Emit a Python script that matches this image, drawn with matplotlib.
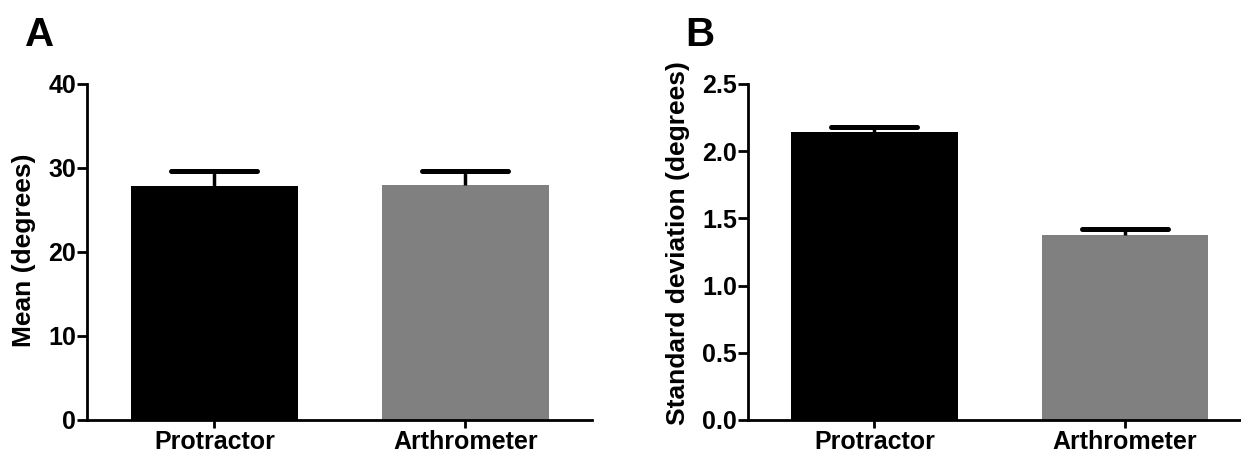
import matplotlib
matplotlib.use("Agg")
import matplotlib.pyplot as plt
from matplotlib.markers import MarkerStyle

categories = ["Protractor", "Arthrometer"]
mean_values = [27.9, 28.0]
mean_errors = [1.7, 1.7]
sd_values = [2.14, 1.38]
sd_errors = [0.04, 0.042]
bar_colors = ["#000000", "#808080"]
mean_ticks = [0, 10, 20, 30, 40]
sd_ticks = [0.0, 0.5, 1.0, 1.5, 2.0, 2.5]

plt.rcParams['font.family'] = ['Liberation Sans', 'DejaVu Sans']
plt.rcParams['font.weight'] = 'bold'

fig = plt.figure(figsize=(12.41, 4.54), dpi=100)

def panel(rect, values, errors, ticks, ylim, ylabel, label_xy, ticklabels, letter, letter_pos, xlim):
    ax = fig.add_axes(rect)
    x = list(range(len(categories)))
    ax.bar(x, values, width=0.665, color=bar_colors, edgecolor='none', zorder=2)
    eb = ax.errorbar(x, values, yerr=[[0] * len(errors), errors], fmt='none',
                     ecolor='black', elinewidth=2.5, capsize=31, capthick=3.6, zorder=3)
    for cap in eb[1]:
        ys = list(cap.get_ydata())
        if all(abs(a - b) < 1e-9 for a, b in zip(ys, values)):
            cap.set_visible(False)
        else:
            cap.set_marker(MarkerStyle('_', capstyle='round'))
    ax.set_xlim(*xlim)
    ax.set_ylim(*ylim)
    ax.set_yticks(ticks)
    ax.set_yticklabels(ticklabels, fontsize=18, fontweight='bold')
    ax.set_xticks(x)
    ax.set_xticklabels(categories, fontsize=18, fontweight='bold')
    for s in ['top', 'right']:
        ax.spines[s].set_visible(False)
    for s in ['left', 'bottom']:
        ax.spines[s].set_linewidth(2.0)
    ax.tick_params(axis='y', length=7, width=2.0, pad=1)
    ax.tick_params(axis='x', length=6, width=2.0, pad=1)
    ax.set_ylabel(ylabel, fontsize=19, fontweight='bold')
    ax.yaxis.set_label_coords(label_xy[0], label_xy[1])
    fig.text(letter_pos[0], letter_pos[1], letter, fontsize=29, fontweight='bold',
             family=['Liberation Sans Narrow', 'Liberation Sans', 'DejaVu Sans'], va='bottom', ha='left')
    return ax

panel([0.0701, 0.0749, 0.4069, 0.7401], mean_values, mean_errors, mean_ticks, (0, 40),
      "Mean (degrees)", (-0.10, 0.506), [str(t) for t in mean_ticks], "A", (0.02, 0.88), (-0.508, 1.504))
panel([0.6027, 0.0749, 0.4058, 0.7401], sd_values, sd_errors, sd_ticks, (0, 2.5),
      "Standard deviation (degrees)", (-0.115, 0.526), [f"{t:.1f}" for t in sd_ticks], "B", (0.552, 0.88), (-0.505, 1.505))

fig.savefig("out.png", dpi=100)
